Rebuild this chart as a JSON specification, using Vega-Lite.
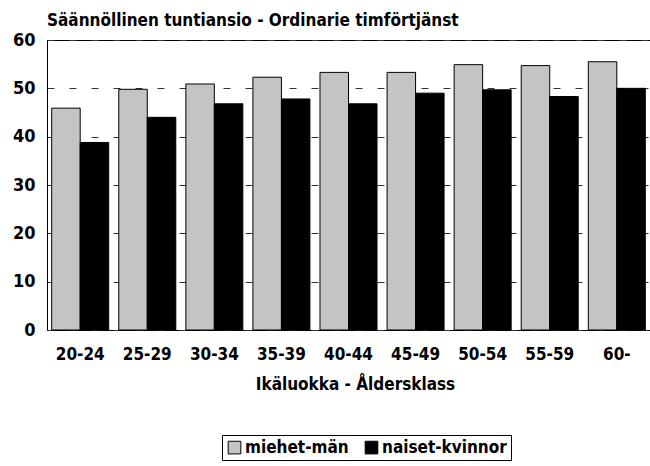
{
  "$schema": "https://vega.github.io/schema/vega-lite/v6.json",
  "autosize": {"type": "none"},
  "padding": {"left": 47, "top": 40, "right": 0, "bottom": 136},
  "width": 603,
  "height": 290,
  "background": "white",
  "config": {
    "font": "Liberation Sans Narrow, DejaVu Sans Condensed, sans-serif",
    "view": {"stroke": "black", "strokeWidth": 1}
  },
  "title": {
    "text": "Säännöllinen tuntiansio - Ordinarie timförtjänst",
    "anchor": "start",
    "frame": "group",
    "fontSize": 17,
    "fontWeight": "bold",
    "color": "black",
    "offset": 1
  },
  "data": {
    "values": [
      {"age": "20-24", "sex": "miehet-män", "value": 45.9},
      {"age": "20-24", "sex": "naiset-kvinnor", "value": 38.8},
      {"age": "25-29", "sex": "miehet-män", "value": 49.8},
      {"age": "25-29", "sex": "naiset-kvinnor", "value": 44.0},
      {"age": "30-34", "sex": "miehet-män", "value": 50.9},
      {"age": "30-34", "sex": "naiset-kvinnor", "value": 46.8},
      {"age": "35-39", "sex": "miehet-män", "value": 52.3},
      {"age": "35-39", "sex": "naiset-kvinnor", "value": 47.8},
      {"age": "40-44", "sex": "miehet-män", "value": 53.3},
      {"age": "40-44", "sex": "naiset-kvinnor", "value": 46.8},
      {"age": "45-49", "sex": "miehet-män", "value": 53.3},
      {"age": "45-49", "sex": "naiset-kvinnor", "value": 49.0},
      {"age": "50-54", "sex": "miehet-män", "value": 54.9},
      {"age": "50-54", "sex": "naiset-kvinnor", "value": 49.7},
      {"age": "55-59", "sex": "miehet-män", "value": 54.7},
      {"age": "55-59", "sex": "naiset-kvinnor", "value": 48.3},
      {"age": "60-", "sex": "miehet-män", "value": 55.5},
      {"age": "60-", "sex": "naiset-kvinnor", "value": 50.0}
    ]
  },
  "mark": {"type": "bar", "stroke": "black", "strokeWidth": 1},
  "encoding": {
    "x": {
      "field": "age",
      "type": "nominal",
      "sort": null,
      "scale": {"paddingInner": 0.15, "paddingOuter": 0.07},
      "axis": {
        "title": "Ikäluokka - Åldersklass",
        "titleFontSize": 17,
        "titleFontWeight": "bold",
        "titleColor": "black",
        "titlePadding": 14,
        "titleX": 308,
        "labelAngle": 0,
        "labelFontSize": 17,
        "labelFontWeight": "bold",
        "labelColor": "black",
        "labelPadding": 16,
        "domain": false,
        "ticks": false
      }
    },
    "xOffset": {
      "field": "sex",
      "type": "nominal",
      "sort": ["miehet-män", "naiset-kvinnor"],
      "scale": {"paddingInner": 0, "paddingOuter": 0}
    },
    "y": {
      "field": "value",
      "type": "quantitative",
      "scale": {"domain": [0, 60], "nice": false},
      "axis": {
        "title": null,
        "values": [0, 10, 20, 30, 40, 50, 60],
        "labelFontSize": 18,
        "labelFontWeight": "bold",
        "labelColor": "black",
        "labelPadding": 12,
        "ticks": false,
        "domain": true,
        "domainColor": "black",
        "grid": true,
        "gridColor": "#333333",
        "gridDash": [7, 15],
        "gridWidth": 1
      }
    },
    "color": {
      "field": "sex",
      "type": "nominal",
      "scale": {"domain": ["miehet-män", "naiset-kvinnor"], "range": ["#c4c4c4", "#000000"]},
      "legend": {
        "title": null,
        "orient": "none",
        "legendX": 175,
        "legendY": 395,
        "direction": "horizontal",
        "strokeColor": "black",
        "padding": 4,
        "symbolType": "square",
        "symbolSize": 160,
        "symbolStrokeColor": "black",
        "symbolStrokeWidth": 1,
        "labelFontSize": 17,
        "labelFontWeight": "bold",
        "labelColor": "black",
        "labelOffset": 2,
        "columnPadding": 14,
        "labelLimit": 200
      }
    }
  }
}
